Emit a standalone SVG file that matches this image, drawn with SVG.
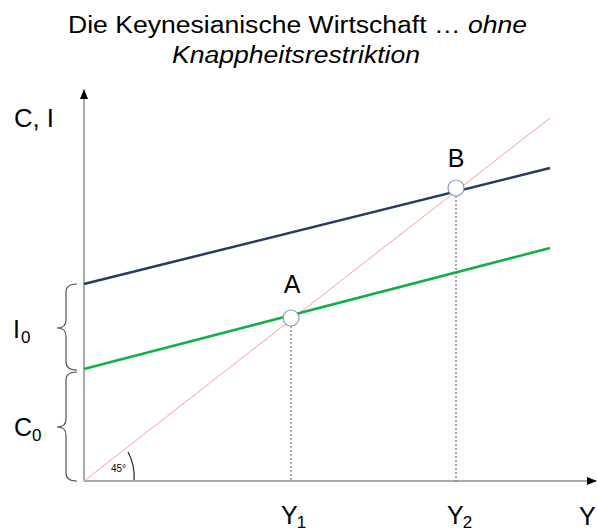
<svg xmlns="http://www.w3.org/2000/svg" width="597" height="532" viewBox="0 0 597 532">
<defs>
<marker id="ah" markerWidth="10" markerHeight="8" refX="9" refY="4" orient="auto" markerUnits="userSpaceOnUse">
<path d="M0,0 L10,4 L0,8 Z" fill="#000"/>
</marker>
<style>
text{font-family:"Liberation Sans",Arial,sans-serif;fill:#000}
.t{font-size:23px}
.l{font-size:25px}
.s{font-size:17px}
.axis{stroke:#8c8c8c;stroke-width:1.5;fill:none}
.brace{stroke:#555;stroke-width:1.2;fill:none}
.dot{stroke:#555;stroke-width:1;stroke-dasharray:2,2;fill:none}
.pt{fill:#fff;stroke:#7f9bc0;stroke-width:1.2}
</style>
</defs>
<rect width="597" height="532" fill="#fff"/>
<g id="title">
<text class="t" x="68" y="33" textLength="459" lengthAdjust="spacingAndGlyphs">Die Keynesianische Wirtschaft … <tspan font-style="italic">ohne</tspan></text>
<text class="t" x="172" y="63" font-style="italic" textLength="248" lengthAdjust="spacingAndGlyphs">Knappheitsrestriktion</text>
</g>
<g id="axes">
<line class="axis" x1="84" y1="481" x2="84" y2="90" marker-end="url(#ah)"/>
<line class="axis" x1="84" y1="481" x2="596" y2="481" marker-end="url(#ah)"/>
<text class="l" x="14" y="127" textLength="40" lengthAdjust="spacingAndGlyphs">C, I</text>
<text class="l" x="579" y="525">Y</text>
</g>
<g id="connectors">
<line x1="84" y1="481" x2="550" y2="118" stroke="#ff9a9a" stroke-width="1"/>
<line x1="84" y1="284" x2="550" y2="168" stroke="#233c60" stroke-width="2.5"/>
<line x1="84" y1="369" x2="550" y2="248" stroke="#12b04a" stroke-width="2.5"/>
<line class="dot" x1="291" y1="326" x2="291" y2="481"/>
<line class="dot" x1="456" y1="196" x2="456" y2="481"/>
<path d="M128,452 A50,50 0 0 1 134,480" fill="none" stroke="#222" stroke-width="1.2"/>
<text x="111" y="472" font-size="10">45°</text>
</g>
<g id="braceI0">
<path class="brace" d="M77,284 Q66,284 66,292 L66,320 Q66,328 57,328 Q66,328 66,336 L66,362 Q66,370 77,370"/>
<text class="l" x="13" y="338">I<tspan class="s" dx="1" dy="5">0</tspan></text>
</g>
<g id="braceC0">
<path class="brace" d="M77,372 Q66,372 66,380 L66,419 Q66,427 57,427 Q66,427 66,435 L66,473 Q66,481 77,481"/>
<text class="l" x="14" y="436">C<tspan class="s" dy="5">0</tspan></text>
</g>
<g id="pointA">
<circle class="pt" cx="291" cy="318" r="8"/>
<text class="l" x="292" y="293" text-anchor="middle">A</text>
<text class="l" x="281" y="524">Y<tspan class="s" dx="-1" dy="4">1</tspan></text>
</g>
<g id="pointB">
<circle class="pt" cx="456" cy="188" r="8"/>
<text class="l" x="456" y="167" text-anchor="middle">B</text>
<text class="l" x="447" y="524">Y<tspan class="s" dx="-1" dy="4">2</tspan></text>
</g>
</svg>
